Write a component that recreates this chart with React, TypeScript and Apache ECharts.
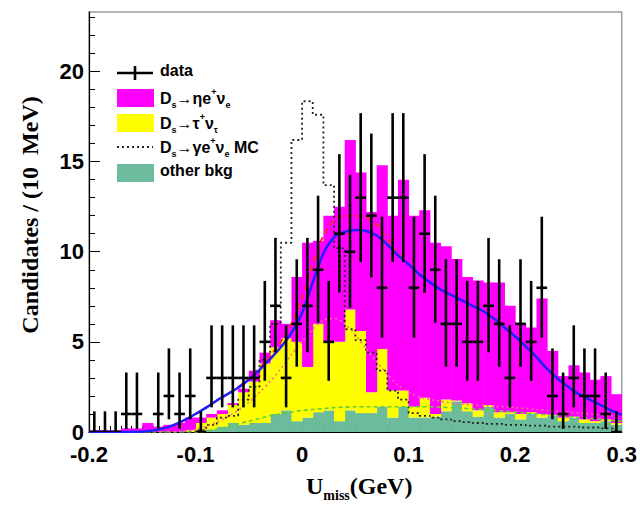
import React, { useEffect, useRef } from "react";
import * as echarts from "echarts";

// ---- binning ----
const X_MIN = -0.2;
const BIN_W = 0.01;

// ---- observed data (candidates per 10 MeV bin, -0.2 .. 0.3 GeV) ----
const dataCounts: (number | null)[] = [
  0, 0, 0, 1, 1, null, 1, 2, 1, 2,
  0, 3, 3, 3, 3, 3, 5, 7, 3, 6,
  7, 9, 5, 11, 10, 13, 12, 8, 13, 13,
  8, 11, 9, 6, 6, 5, 5, 7, 6, 3,
  6, 5, 8, 2, 1, 3, 2, 2, 1, 0,
];

// Poisson 68% interval half-widths (low / high) keyed by count
const poissonLow: Record<number, number> = {
  0: 0, 1: 0.827, 2: 1.292, 3: 1.633, 4: 1.914, 5: 2.158, 6: 2.377, 7: 2.58,
  8: 2.768, 9: 2.945, 10: 3.108, 11: 3.265, 12: 3.418, 13: 3.562,
};
const poissonHigh: Record<number, number> = {
  0: 1.147, 1: 2.299, 2: 2.637, 3: 2.918, 4: 3.162, 5: 3.382, 6: 3.583, 7: 3.77,
  8: 3.945, 9: 4.109, 10: 4.265, 11: 4.413, 12: 4.555, 13: 4.69,
};

// ---- stacked components ----
const otherBkg = [
  0, 0, 0, 0, 0, 0, 0, 0, 0, 0,
  0.1, 0.15, 0.3, 0.5, 0.4, 0.5, 0.5, 1.0, 1.2, 0.6,
  0.8, 1.1, 1.2, 0.6, 1.2, 1.05, 1.05, 1.4, 0.8, 1.4,
  0.8, 0.8, 0.85, 1.15, 1.7, 1.15, 0.85, 1.4, 0.8, 1.0,
  0.7, 1.0, 0.8, 0.9, 0.6, 0.8, 0.5, 0.5, 0.6, 0.4,
];
const tauNu = [
  0, 0, 0, 0, 0, 0, 0, 0, 0, 0.1,
  0.4, 0.65, 0.7, 1.0, 1.8, 2.3, 3.3, 3.7, 4.0, 4.4,
  2.8, 4.9, 3.8, 4.4, 5.6, 4.55, 1.15, 3.2, 1.5, 0.9,
  0.6, 1.1, 0.15, 0.65, 0.05, 0.45, 0.35, 0.1, 0.3, 0.1,
  0.3, 0.1, 0.2, 0.05, 0.2, 0.05, 0.2, 0.1, 0.1, 0.1,
];
const etaENu = [
  0.1, 0.1, 0.1, 0.2, 0.2, 0.5, 0.3, 0.4, 0.5, 0.7,
  0.3, 0.2, 0.2, 0.1, 0.2, 0.6, 0.6, 1.5, 0.8, 3.6,
  6.9, 4.6, 7.0, 7.5, 9.4, 8.8, 10.0, 10.2, 9.7, 11.7,
  10.6, 10.4, 9.5, 8.5, 7.85, 7.0, 7.2, 6.8, 7.2, 5.9,
  5.0, 4.7, 6.4, 3.55, 2.3, 2.85, 2.6, 2.3, 2.4, 1.6,
];

// ---- Ds -> gamma e nu MC (dotted histogram) ----
const gammaMC = [
  0, 0, 0, 0, 0, 0, 0, 0, 0, 0,
  0.1, 0.4, 0.8, 0.9, 1.8, 2.5, 4.0, 6.0, 10.5, 16.2,
  18.35, 17.6, 13.7, 10.2, 5.7, 5.1, 4.4, 3.4, 2.3, 1.8,
  1.05, 0.9, 0.8, 0.7, 0.6, 0.55, 0.5, 0.45, 0.45, 0.4,
  0.4, 0.35, 0.35, 0.3, 0.3, 0.3, 0.25, 0.25, 0.2, 0.2,
];

// ---- fit curves sampled every 10 MeV ----
const curveX = [
  -0.2, -0.19, -0.18, -0.17, -0.16, -0.15, -0.14, -0.13, -0.12, -0.11,
  -0.1, -0.09, -0.08, -0.07, -0.06, -0.05, -0.04, -0.03, -0.02, -0.01,
  0, 0.01, 0.02, 0.03, 0.04, 0.05, 0.06, 0.07, 0.08, 0.09,
  0.1, 0.11, 0.12, 0.13, 0.14, 0.15, 0.16, 0.17, 0.18, 0.19,
  0.2, 0.21, 0.22, 0.23, 0.24, 0.25, 0.26, 0.27, 0.28, 0.29, 0.3,
];
const fitTotal = [
  0, 0, 0, 0, 0.01, 0.03, 0.08, 0.2, 0.4, 0.67,
  1.0, 1.35, 1.75, 2.1, 2.45, 2.9, 3.45, 4.05, 4.7, 5.5,
  6.6, 8.3, 9.9, 10.8, 11.1, 11.2, 11.15, 10.9, 10.4, 9.8,
  9.3, 8.75, 8.3, 7.9, 7.6, 7.3, 7.0, 6.7, 6.3, 5.8,
  5.3, 4.75, 4.15, 3.5, 2.95, 2.5, 2.1, 1.8, 1.5, 1.2, 0.95,
];
const fitAlt = [
  0, 0, 0, 0, 0.01, 0.03, 0.08, 0.2, 0.4, 0.67,
  1.0, 1.35, 1.75, 2.1, 2.5, 2.95, 3.55, 4.2, 5.0, 6.0,
  7.4, 9.3, 10.9, 11.7, 12.0, 12.0, 11.9, 11.5, 10.7, 9.9,
  9.3, 8.75, 8.3, 7.9, 7.6, 7.3, 7.0, 6.7, 6.3, 5.8,
  5.3, 4.75, 4.15, 3.5, 2.95, 2.5, 2.1, 1.8, 1.5, 1.2, 0.95,
];
const fitTauBkg = [
  0, 0, 0, 0, 0, 0, 0, 0, 0, 0.05,
  0.15, 0.3, 0.55, 0.85, 1.2, 1.65, 2.2, 2.8, 3.5, 4.3,
  5.0, 5.7, 6.2, 6.3, 6.0, 5.4, 4.6, 3.9, 3.2, 2.6,
  2.2, 1.95, 1.8, 1.7, 1.6, 1.55, 1.5, 1.47, 1.43, 1.4,
  1.35, 1.3, 1.25, 1.2, 1.15, 1.1, 1.05, 1.0, 0.95, 0.9, 0.85,
];
const fitBkg = [
  0, 0, 0, 0, 0, 0, 0, 0, 0, 0,
  0, 0.05, 0.15, 0.3, 0.45, 0.6, 0.75, 0.9, 1.0, 1.1,
  1.2, 1.25, 1.3, 1.35, 1.38, 1.4, 1.4, 1.4, 1.4, 1.4,
  1.4, 1.4, 1.4, 1.38, 1.35, 1.32, 1.28, 1.25, 1.2, 1.15,
  1.1, 1.05, 1.0, 0.95, 0.9, 0.85, 0.8, 0.75, 0.7, 0.65, 0.6,
];

// ---- axes ----
const yTicks = [0, 5, 10, 15, 20];
const yMinorTicks = [1, 2, 3, 4, 6, 7, 8, 9, 11, 12, 13, 14, 16, 17, 18, 19, 21, 22, 23];

const MAGENTA = "#ff00ff";
const YELLOW = "#ffff00";
const GREEN = "#6cbb9c";

function histData(base: number[], height: number[]) {
  return height.map((h, i) => {
    const lo = X_MIN + i * BIN_W;
    return [lo, lo + BIN_W, base[i], base[i] + h];
  });
}

function histRender(color: string) {
  return (params: any, api: any) => {
    const y0 = api.value(2);
    const y1 = api.value(3);
    if (y1 - y0 <= 0) return null;
    const a = api.coord([api.value(0), y1]);
    const b = api.coord([api.value(1), y0]);
    return {
      type: "rect",
      shape: { x: a[0], y: a[1], width: b[0] - a[0] + 0.5, height: b[1] - a[1] },
      style: { fill: color },
    };
  };
}

export default function App() {
  const ref = useRef<HTMLDivElement>(null);

  useEffect(() => {
    document.body.style.margin = "0";
    if (!ref.current) return;
    const chart = echarts.init(ref.current, null, { renderer: "svg" });

    const zeros = otherBkg.map(() => 0);
    const cum1 = otherBkg.slice();
    const cum2 = otherBkg.map((v, i) => v + tauNu[i]);

    const errData: number[][] = [];
    dataCounts.forEach((n, i) => {
      if (n === null) return;
      const lo = X_MIN + i * BIN_W;
      errData.push([lo, lo + BIN_W, n, poissonLow[n], poissonHigh[n]]);
    });

    const mcData = gammaMC.map((v, i) => [X_MIN + (i + 0.5) * BIN_W, v]);
    const curve = (arr: number[]) => arr.map((v, i) => [curveX[i], v]);

    const sans = "Liberation Sans";
    const serif = "Liberation Serif";
    const legText = (text: string, y: number) => ({
      type: "text",
      left: 160,
      top: y - 11,
      style: {
        text,
        fill: "#000",
        rich: {
          m: { fontFamily: sans, fontWeight: "bold", fontSize: 16, lineHeight: 22, verticalAlign: "middle" },
          s: { fontFamily: sans, fontWeight: "bold", fontSize: 9, lineHeight: 22, verticalAlign: "bottom" },
          p: { fontFamily: sans, fontWeight: "bold", fontSize: 9, lineHeight: 22, verticalAlign: "top" },
        },
      },
    });

    const option: any = {
      animation: false,
      backgroundColor: "#fff",
      grid: {
        left: 89, right: 16, top: 12, bottom: 76,
        show: true, borderColor: "#9a9a9a", borderWidth: 1.5, backgroundColor: "transparent",
      },
      xAxis: {
        type: "value",
        min: -0.2, max: 0.3, interval: 0.1,
        axisLine: { show: true, onZero: false, lineStyle: { color: "#000", width: 1.2 } },
        axisTick: { show: true, inside: true, length: 11, lineStyle: { color: "#000", width: 1 } },
        minorTick: { show: true, splitNumber: 10, length: 6, lineStyle: { color: "#000", width: 1 } },
        axisLabel: {
          color: "#000", fontFamily: sans, fontWeight: "bold", fontSize: 22, margin: 11,
          formatter: (v: number) => (Math.abs(v) < 1e-9 ? "0" : String(Math.round(v * 10) / 10)),
        },
        splitLine: { show: false },
      },
      yAxis: [
        {
          type: "value", min: 0, max: 23.3, position: "left",
          axisLine: { show: true, onZero: false, lineStyle: { color: "#000", width: 1.2 } },
          axisTick: { show: true, inside: true, length: 11, customValues: yTicks, lineStyle: { color: "#000" } },
          axisLabel: {
            customValues: yTicks, color: "#000", fontFamily: sans, fontWeight: "bold", fontSize: 22, margin: 5,
          },
          splitLine: { show: false },
        },
        {
          type: "value", min: 0, max: 23.3, position: "left", offset: 0,
          axisLine: { show: false, onZero: false },
          axisTick: { show: true, inside: true, length: 6, customValues: yMinorTicks, lineStyle: { color: "#000" } },
          axisLabel: { show: false },
          splitLine: { show: false },
        },
      ],
      series: [
        {
          type: "custom", name: "bkg", renderItem: histRender(GREEN), data: histData(zeros, otherBkg),
          encode: { x: [0, 1], y: [2, 3] }, clip: true, silent: true, z: 1,
        },
        {
          type: "custom", name: "tau", renderItem: histRender(YELLOW), data: histData(cum1, tauNu),
          encode: { x: [0, 1], y: [2, 3] }, clip: true, silent: true, z: 1,
        },
        {
          type: "custom", name: "eta", renderItem: histRender(MAGENTA), data: histData(cum2, etaENu),
          encode: { x: [0, 1], y: [2, 3] }, clip: true, silent: true, z: 1,
        },
        {
          type: "line", name: "gammaMC", data: mcData, step: "middle", showSymbol: false, silent: true,
          lineStyle: { color: "#222", width: 1.8, type: [2, 3] }, z: 3,
        },
        {
          type: "line", name: "fitBkg", data: curve(fitBkg), smooth: 0.3, showSymbol: false, silent: true,
          lineStyle: { color: "#66cc33", width: 1.6, type: [4, 3] }, z: 3,
        },
        {
          type: "line", name: "fitTauBkg", data: curve(fitTauBkg), smooth: 0.3, showSymbol: false, silent: true,
          lineStyle: { color: "#ff6699", width: 1.6, type: [2, 3] }, z: 3,
        },
        {
          type: "line", name: "fitAlt", data: curve(fitAlt), smooth: 0.3, showSymbol: false, silent: true,
          lineStyle: { color: "#ff2a2a", width: 2, type: [6, 4] }, z: 4,
        },
        {
          type: "line", name: "fitTotal", data: curve(fitTotal), smooth: 0.3, showSymbol: false, silent: true,
          lineStyle: { color: "#1f1fff", width: 2.5 }, z: 5,
        },
        {
          type: "custom", name: "data", silent: true, clip: true, z: 6,
          data: errData,
          encode: { x: [0, 1], y: [2] },
          renderItem: (params: any, api: any) => {
            const lo = api.value(0), hi = api.value(1), v = api.value(2);
            const eL = api.value(3), eH = api.value(4);
            const xc = (lo + hi) / 2;
            const pT = api.coord([xc, v + eH]);
            const pB = api.coord([xc, v - eL]);
            const pL = api.coord([lo, v]);
            const pR = api.coord([hi, v]);
            const st = { stroke: "#000", lineWidth: 2.6 };
            return {
              type: "group",
              children: [
                { type: "line", shape: { x1: pT[0], y1: pT[1], x2: pB[0], y2: pB[1] }, style: st },
                { type: "line", shape: { x1: pL[0], y1: pL[1], x2: pR[0], y2: pR[1] }, style: st },
              ],
            };
          },
        },
      ],
      graphic: [
        // legend
        { type: "line", shape: { x1: 117, y1: 73, x2: 153, y2: 73 }, style: { stroke: "#000", lineWidth: 2.6 } },
        { type: "line", shape: { x1: 135, y1: 66, x2: 135, y2: 80 }, style: { stroke: "#000", lineWidth: 2.6 } },
        legText("{m|data}", 73),
        { type: "rect", shape: { x: 117, y: 89, width: 37, height: 18 }, style: { fill: MAGENTA } },
        legText("{m|D}{s|s}{m|→ηe}{p|+}{m|ν}{s|e}", 98),
        { type: "rect", shape: { x: 117, y: 114, width: 37, height: 18 }, style: { fill: YELLOW } },
        legText("{m|D}{s|s}{m|→τ}{p|+}{m|ν}{s|τ}", 123),
        { type: "line", shape: { x1: 117, y1: 147, x2: 153, y2: 147 }, style: { stroke: "#222", lineWidth: 1.8, lineDash: [2, 3] } },
        legText("{m|D}{s|s}{m|→γe}{p|+}{m|ν}{s|e}{m| MC}", 147),
        { type: "rect", shape: { x: 117, y: 164, width: 37, height: 18 }, style: { fill: GREEN } },
        legText("{m|other bkg}", 173),
        // axis titles
        {
          type: "text",
          x: 30, y: 215,
          rotation: Math.PI / 2,
          style: {
            text: "Candidates / (10  MeV)",
            fill: "#000", fontFamily: serif, fontWeight: "bold", fontSize: 24,
            align: "center", verticalAlign: "middle",
          },
        },
        {
          type: "text",
          left: 306, top: 474,
          style: {
            text: "{u|U}{s|miss}{u|(GeV)}",
            fill: "#000",
            rich: {
              u: { fontFamily: serif, fontWeight: "bold", fontSize: 24, lineHeight: 32, verticalAlign: "middle" },
              s: { fontFamily: serif, fontWeight: "bold", fontSize: 14, lineHeight: 32, verticalAlign: "bottom" },
            },
          },
        },
      ],
    };

    chart.setOption(option);
    return () => chart.dispose();
  }, []);

  return <div ref={ref} style={{ width: 640, height: 508 }} />;
}
